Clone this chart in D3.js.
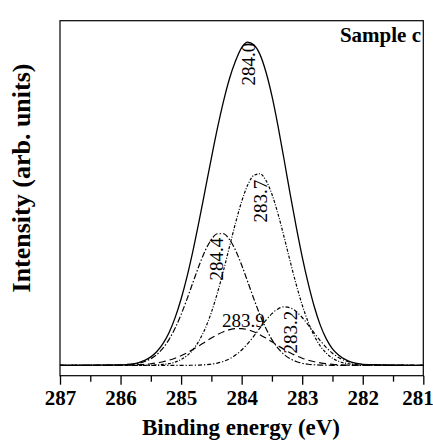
<!DOCTYPE html>
<html><head><meta charset="utf-8">
<script src="https://cdn.jsdelivr.net/npm/d3@7"></script>
<style>
html,body{margin:0;padding:0;background:#fff;}
svg{display:block;}
svg text{font-family:"Liberation Serif","Times New Roman",serif;}
</style></head>
<body>
<svg id="chart" width="433" height="442"></svg>
<script>
// Binding energy grid (eV)
const energy = [287.0, 286.0, 285.9, 285.8, 285.7, 285.6, 285.5, 285.4, 285.3, 285.2, 285.1, 285.0, 284.9, 284.8, 284.7, 284.6, 284.5, 284.4, 284.3, 284.2, 284.1, 284.0, 283.9, 283.8, 283.7, 283.6, 283.5, 283.4, 283.3, 283.2, 283.1, 283.0, 282.9, 282.8, 282.7, 282.6, 282.5, 282.4, 282.3, 282.2, 282.1, 282.0, 281.0];
// Intensity (arb. units)
const envelope = [0, 0.12, 0.24, 0.44, 0.82, 1.45, 2.46, 4.01, 6.29, 9.49, 13.78, 19.25, 25.90, 33.60, 42.13, 51.13, 60.15, 68.80, 76.61, 83.24, 88.36, 92.2, 93.8, 93.0, 90.3, 85.2, 78.2, 69.5, 59.8, 49.8, 40.3, 31.5, 23.7, 17.0, 11.6, 7.6, 4.8, 3.0, 1.8, 1.0, 0.55, 0.3, 0];
const peak2837 = [0, 0, 0, 0, 0.01, 0.03, 0.06, 0.13, 0.26, 0.51, 0.95, 1.68, 2.86, 4.64, 7.23, 10.78, 15.38, 21.03, 27.52, 34.49, 41.38, 47.55, 52.31, 55.11, 55.59, 53.69, 49.66, 43.97, 37.29, 30.28, 23.54, 17.52, 12.49, 8.52, 5.57, 3.49, 2.09, 1.20, 0.66, 0.35, 0.17, 0.08, 0];
const peak2844 = [0, 0.08, 0.17, 0.33, 0.62, 1.12, 1.93, 3.17, 4.98, 7.48, 10.75, 14.76, 19.36, 24.28, 29.10, 33.33, 36.49, 38.18, 38.18, 36.49, 33.33, 29.10, 24.28, 19.36, 14.76, 10.75, 7.48, 4.98, 3.17, 1.93, 1.12, 0.62, 0.33, 0.17, 0.08, 0.04, 0.02, 0.01, 0, 0, 0, 0, 0];
const peak2839 = [0, 0.04, 0.07, 0.11, 0.19, 0.30, 0.47, 0.71, 1.05, 1.50, 2.08, 2.80, 3.66, 4.64, 5.71, 6.83, 7.92, 8.92, 9.75, 10.35, 10.66, 10.66, 10.35, 9.75, 8.92, 7.92, 6.83, 5.71, 4.64, 3.66, 2.80, 2.08, 1.50, 1.05, 0.71, 0.47, 0.30, 0.19, 0.11, 0.07, 0.04, 0.02, 0];
const peak2832 = [0, 0, 0, 0, 0, 0, 0, 0, 0, 0, 0, 0.01, 0.02, 0.04, 0.09, 0.19, 0.36, 0.67, 1.16, 1.91, 2.99, 4.46, 6.30, 8.46, 10.78, 13.05, 15.00, 16.38, 16.98, 16.72, 15.64, 13.88, 11.71, 9.38, 7.13, 5.15, 3.53, 2.30, 1.42, 0.84, 0.47, 0.25, 0];

const xTicks = [287, 286, 285, 284, 283, 282, 281];
const xMinor = [286.5, 285.5, 284.5, 283.5, 282.5, 281.5];
const peakLabels = ["284.0", "283.7", "284.4", "283.9", "283.2"];
const sampleLabel = "Sample c";
const xTitle = "Binding energy (eV)";
const yTitle = "Intensity (arb. units)";

const FONT = "'Liberation Serif','Times New Roman',serif";
const svg = d3.select("#chart");
const L = 60, R = 423.3, T = 20.7, B = 375.7;
const x = d3.scaleLinear().domain([287, 281]).range([L, R]);
const y = d3.scaleLinear().domain([-3, 100]).range([B, T]);

// frame
svg.append("rect").attr("x", L).attr("y", T).attr("width", R - L).attr("height", B - T)
  .attr("fill", "none").attr("stroke", "#000").attr("stroke-width", 1.2);

// x axis
const ax = svg.append("g").attr("transform", `translate(0,${B})`)
  .call(d3.axisBottom(x).tickValues(xTicks).tickSize(9).tickPadding(5).tickFormat(d3.format("d")));
ax.attr("font-family", FONT);
ax.select(".domain").remove();
ax.selectAll("line").attr("stroke", "#000").attr("stroke-width", 1.3);
ax.selectAll("text").style("font-family", FONT).attr("font-size", 21)
  .attr("font-weight", "bold").attr("fill", "#000");
// keep the last label inside the picture, as in the reference
ax.selectAll(".tick").filter(d => d === 281).select("text").attr("text-anchor", "end").attr("x", 10);
const axm = svg.append("g").attr("transform", `translate(0,${B})`)
  .call(d3.axisBottom(x).tickValues(xMinor).tickSize(6).tickFormat(""));
axm.select(".domain").remove();
axm.selectAll("line").attr("stroke", "#000").attr("stroke-width", 1.3);

// curves
const line = d3.line().x((d, i) => x(energy[i])).y(d => y(d)).curve(d3.curveMonotoneX);
const series = [
  {v: peak2839, dash: "7,4"},
  {v: peak2832, dash: "4,2,1.2,2"},
  {v: peak2844, dash: "6,2,1.5,2"},
  {v: peak2837, dash: "3,1.6,1,1.6"},
  {v: envelope, dash: null}
];
series.forEach(s => {
  svg.append("path").datum(s.v).attr("d", line).attr("fill", "none")
    .attr("stroke", "#000").attr("stroke-width", s.dash ? 1.2 : 1.3)
    .attr("stroke-dasharray", s.dash);
});

// peak labels
const lab = (t, px, py, rot) => {
  const g = svg.append("text").text(t).style("font-family", FONT).style("font-weight", "normal")
    .attr("font-size", 19).attr("fill", "#000");
  if (rot) g.attr("text-anchor", "middle").attr("transform", `translate(${px},${py}) rotate(-90)`);
  else g.attr("x", px).attr("y", py);
};
lab(peakLabels[0], 255, 64, true);
lab(peakLabels[1], 267, 201, true);
lab(peakLabels[2], 223, 259, true);
lab(peakLabels[3], 222, 327, false);
lab(peakLabels[4], 297, 332, true);

svg.append("text").text(sampleLabel).attr("x", 421).attr("y", 42).attr("text-anchor", "end")
  .style("font-family", FONT).attr("font-size", 21).attr("font-weight", "bold");

svg.append("text").text(xTitle).attr("x", 241).attr("y", 435).attr("text-anchor", "middle")
  .style("font-family", FONT).attr("font-size", 23).attr("font-weight", "bold");
svg.append("text").text(yTitle).attr("text-anchor", "middle")
  .attr("transform", "translate(30,178) rotate(-90)")
  .style("font-family", FONT).attr("font-size", 26).attr("font-weight", "bold");
</script>
</body></html>
